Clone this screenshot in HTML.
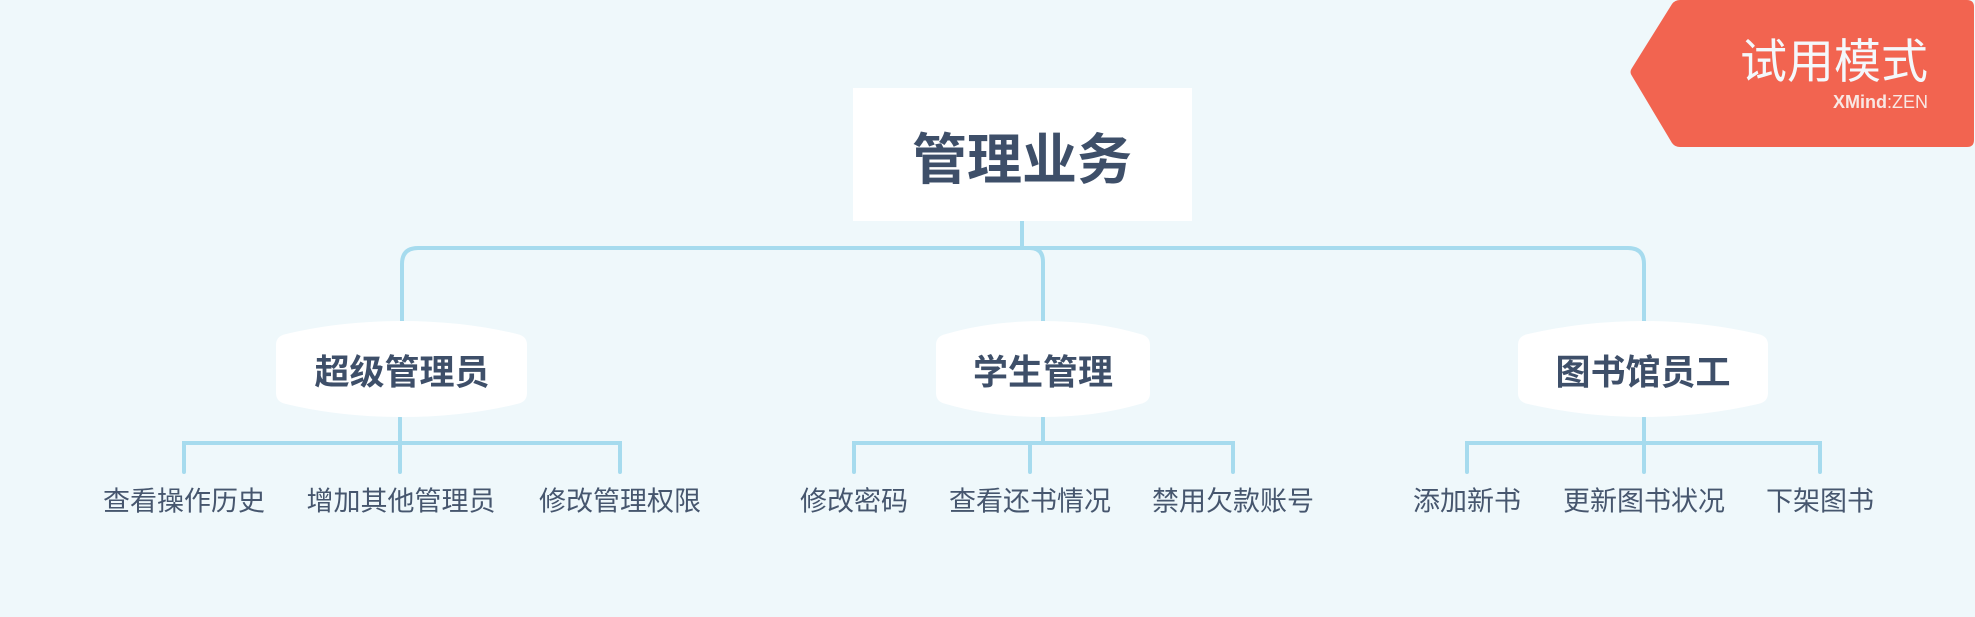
<!DOCTYPE html>
<html><head><meta charset="utf-8"><style>
html,body{margin:0;padding:0;}
body{width:1975px;height:617px;background:#eff8fb;position:relative;overflow:hidden;font-family:"Liberation Sans","Noto Sans CJK SC",sans-serif;}
.t{position:absolute;white-space:nowrap;color:#46566e;transform:translate(-50%,-50%);}
</style></head><body>
<svg width="1975" height="617" style="position:absolute;left:0;top:0">
<g fill="none" stroke="#a6dbee" stroke-width="4" stroke-linecap="round">
<path d="M1022 221 V248"/>
<path d="M402 321 V264 Q402 248 418 248 H1628 Q1644 248 1644 264 V321"/>
<path d="M1030 248 Q1043 248 1043 262 V321"/>
<path d="M400 418 V472 M184 472 V443 H620 V472"/>
<path d="M1043 418 V443 M854 472 V443 H1233 V472 M1030 443 V472"/>
<path d="M1644 418 V472 M1467 472 V443 H1820 V472"/>
</g>
<rect x="853" y="88" width="339" height="133" fill="#fff"/>
<g fill="#fff">
<path d="M276 345 Q276 336 286 334 Q340 321 402 321 Q463 321 517 334 Q527 336 527 345 V393 Q527 402 517 404 Q463 417 402 417 Q340 417 286 404 Q276 402 276 393 Z"/>
<path d="M936 345 Q936 336 946 334 Q990 321 1043 321 Q1096 321 1140 334 Q1150 336 1150 345 V393 Q1150 402 1140 404 Q1096 417 1043 417 Q990 417 946 404 Q936 402 936 393 Z"/>
<path d="M1518 345 Q1518 336 1528 334 Q1585 321 1643 321 Q1701 321 1758 334 Q1768 336 1768 345 V393 Q1768 402 1758 404 Q1701 417 1643 417 Q1585 417 1528 404 Q1518 402 1518 393 Z"/>
</g>
<path d="M1680 0 H1967 Q1974 0 1974 7 V140 Q1974 147 1967 147 H1680 Q1675 147 1672 143 L1632 76 Q1629 72 1632 68 L1672 4 Q1675 0 1680 0 Z" fill="#f26450"/>
</svg>
<div class="t" style="left:1022px;top:155px;font-size:55px;font-weight:bold;color:#3e4f69">管理业务</div>
<div class="t" style="left:402px;top:370px;font-size:35px;font-weight:bold;color:#3e4f69">超级管理员</div>
<div class="t" style="left:1043px;top:370px;font-size:35px;font-weight:bold;color:#3e4f69">学生管理</div>
<div class="t" style="left:1643px;top:370px;font-size:35px;font-weight:bold;color:#3e4f69">图书馆员工</div>
<div class="t" style="left:184px;top:499px;font-size:27px">查看操作历史</div>
<div class="t" style="left:401px;top:499px;font-size:27px">增加其他管理员</div>
<div class="t" style="left:620px;top:499px;font-size:27px">修改管理权限</div>
<div class="t" style="left:854px;top:499px;font-size:27px">修改密码</div>
<div class="t" style="left:1030px;top:499px;font-size:27px">查看还书情况</div>
<div class="t" style="left:1233px;top:499px;font-size:27px">禁用欠款账号</div>
<div class="t" style="left:1467px;top:499px;font-size:27px">添加新书</div>
<div class="t" style="left:1644px;top:499px;font-size:27px">更新图书状况</div>
<div class="t" style="left:1820px;top:499px;font-size:27px">下架图书</div>
<div style="position:absolute;right:47px;top:34px;font-size:47px;color:#f4f8fb;white-space:nowrap;line-height:56px">试用模式</div>
<div style="position:absolute;right:47px;top:91px;font-size:18px;color:#f8e8e4;white-space:nowrap;line-height:22px"><b>XMind</b>:ZEN</div>
</body></html>
